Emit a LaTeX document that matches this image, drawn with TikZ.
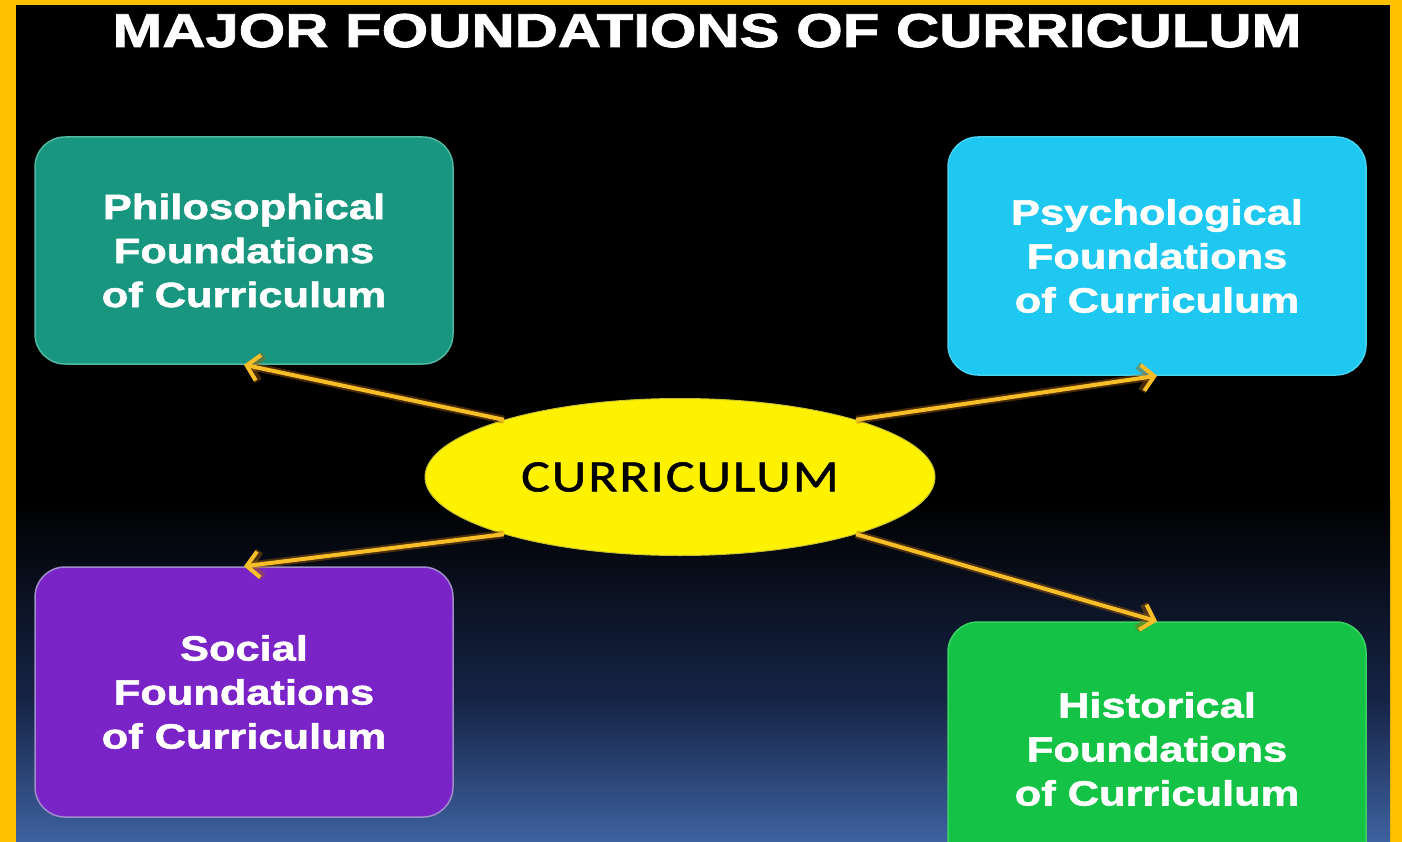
\documentclass[tikz,border=0pt]{standalone}
\usepackage{fontspec}
\setmainfont{Liberation Sans}
\newfontfamily\boxfont[FakeStretch=1.24,FakeBold=1.6]{Liberation Sans Bold}
\newfontfamily\titlefont[FakeStretch=1.26,FakeBold=1.8]{Liberation Sans Bold}
\newfontfamily\curfont[FakeStretch=1.2,FakeBold=1.2,LetterSpace=4]{Carlito}
\usetikzlibrary{arrows.meta,shapes.geometric}
\definecolor{framec}{HTML}{FFC000}
\definecolor{bgmid}{RGB}{22,36,70}
\definecolor{bgblue}{RGB}{62,98,160}
\definecolor{philc}{RGB}{24,150,128}
\definecolor{philb}{RGB}{80,184,160}
\definecolor{psyc}{RGB}{30,200,240}
\definecolor{psyb}{RGB}{70,210,240}
\definecolor{socc}{RGB}{122,36,200}
\definecolor{socb}{RGB}{160,140,200}
\definecolor{hisc}{RGB}{20,195,70}
\definecolor{hisb}{RGB}{60,210,100}
\definecolor{arrowc}{RGB}{248,190,40}
\definecolor{glowc}{RGB}{160,95,10}
\tikzset{
  fbox/.style={rectangle, rounded corners=30pt, inner sep=0pt, line width=1.5pt,
    minimum width=418pt, align=center, text=white,
    font=\boxfont\fontsize{35}{44}\selectfont},
  conn/.style={draw=arrowc, line width=4pt, -{Straight Barb[length=12pt,width=26pt]},
    preaction={draw=glowc, line width=8pt, opacity=0.45, -{Straight Barb[length=12pt,width=26pt]}}},
}
\begin{document}
\begin{tikzpicture}[x=1pt,y=-1pt]
\useasboundingbox (0,0) rectangle (1402,842);
\clip (0,0) rectangle (1402,842);
\fill[framec] (0,0) rectangle (1402,842);
\fill[black] (16,5) rectangle (1390,842);
\shade[top color=black, bottom color=bgmid] (16,500) rectangle (1390,700);
\shade[top color=bgmid, bottom color=bgblue] (16,700) rectangle (1390,842);

\node[anchor=base, text=white, font=\titlefont\fontsize{47.5}{48}\selectfont] (title) at (707,47) {MAJOR FOUNDATIONS OF CURRICULUM};

\node[fbox, fill=philc, draw=philb, minimum height=227pt] (phil) at (244,250.5) {Philosophical\\Foundations\\of Curriculum};
\node[fbox, fill=psyc, draw=psyb, minimum height=238pt] (psy) at (1157,256) {Psychological\\Foundations\\of Curriculum};
\node[fbox, fill=socc, draw=socb, minimum height=250pt] (soc) at (244,692) {Social\\Foundations\\of Curriculum};
\node[fbox, fill=hisc, draw=hisb, minimum height=254pt] (his) at (1157,749) {Historical\\Foundations\\of Curriculum};

\node[ellipse, fill=yellow, draw=yellow!75!black, line width=1pt, minimum width=510pt, minimum height=157pt, inner sep=0pt,
  font=\curfont\fontsize{45}{45}\selectfont] (cur) at (680,477) {CURRICULUM};

\draw[conn] (cur.162) -- (phil.south);
\draw[conn] (cur.18) -- (psy.south);
\draw[conn] (cur.198) -- (soc.north);
\draw[conn] (cur.342) -- (his.north);
\end{tikzpicture}
\end{document}
